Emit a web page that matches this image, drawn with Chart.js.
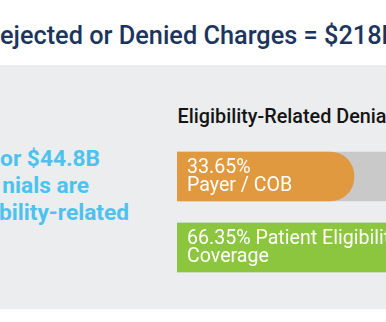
<!DOCTYPE html>
<html>
<head>
<meta charset="utf-8">
<script src="https://cdn.jsdelivr.net/npm/chart.js@4.4.1/dist/chart.umd.min.js"></script>
<style>
  html, body { margin: 0; padding: 0; width: 386px; height: 322px; overflow: hidden; background: #fff; font-family: Roboto, "Noto Sans", sans-serif; }
  .panel { position: absolute; left: 0; top: 65px; width: 386px; height: 244px; background: #ecedee; }
  .title { position: absolute; left: 0; top: 23px; font-size: 25.3px; line-height: 25.3px; font-weight: 500; color: #1c355e; white-space: nowrap; }
  .callout { position: absolute; font-size: 22.7px; line-height: 27px; font-weight: 700; color: #4ec2ef; text-align: right; white-space: nowrap; }
  .subtitle { position: absolute; left: 177.5px; top: 107px; font-size: 19.8px; line-height: 20px; font-weight: 500; color: #151515; white-space: nowrap; }
  #myChart { position: absolute; left: 0; top: 0; }
</style>
</head>
<body>
<div class="panel"></div>
<div class="title">ejected or Denied Charges = $218B</div>
<div class="callout" style="right: 286px; top: 145px;">or $44.8B</div>
<div class="callout" style="right: 297px; top: 172px;">nials are</div>
<div class="callout" style="right: 257px; top: 199px;">bility-related</div>
<div class="subtitle">Eligibility-Related Denials</div>
<canvas id="myChart" width="720" height="322"></canvas>
<script>
// Eligibility-related denial split (percent)
const categories = ['Payer / COB', 'Patient Eligibility Coverage'];
const shares = [33.65, 66.35];
const trackValues = [100, 100];
const barColors = ['#e0993f', '#8cc63e'];
const clrTrack = '#c9c9c9';

// text shown inside each bar, two lines
const barLabels = [
	[shares[0].toFixed(2) + '%', 'Payer / COB'],
	[shares[1].toFixed(2) + '% Patient Eligibility', 'Coverage']
];

// writes the labels on top of the coloured bars
const barText = {
	id: 'barText',
	afterDatasetsDraw(chart) {
		const ctx = chart.ctx;
		const meta = chart.getDatasetMeta(0);
		ctx.save();
		ctx.fillStyle = '#ffffff';
		ctx.font = '19.6px Roboto';
		ctx.textBaseline = 'alphabetic';
		meta.data.forEach(function(bar, i) {
			const left = bar.base + 10;
			ctx.fillText(barLabels[i][0], left, bar.y - 3.5);
			ctx.fillText(barLabels[i][1], left, bar.y + 14.5);
		});
		ctx.restore();
	}
};

let chart = new Chart('myChart', {
	type: 'bar',
	data: {
		labels: categories,
		datasets: [{
			label: 'Share',
			data: shares,
			backgroundColor: barColors,
			borderRadius: 24,
			barThickness: 49,
			grouped: false,
			order: 0
		}, {
			label: 'Track',
			data: trackValues,
			backgroundColor: clrTrack,
			barThickness: 49,
			grouped: false,
			order: 1
		}]
	},
	plugins: [barText],
	options: {
		indexAxis: 'y',
		responsive: false,
		animation: false,
		layout: {
			padding: { left: 177, right: 17, top: 141, bottom: 39 }
		},
		scales: {
			x: { display: false, min: 0, max: 100 },
			y: { display: false }
		},
		plugins: {
			legend: { display: false },
			tooltip: { enabled: false }
		}
	}
});
</script>
</body>
</html>
